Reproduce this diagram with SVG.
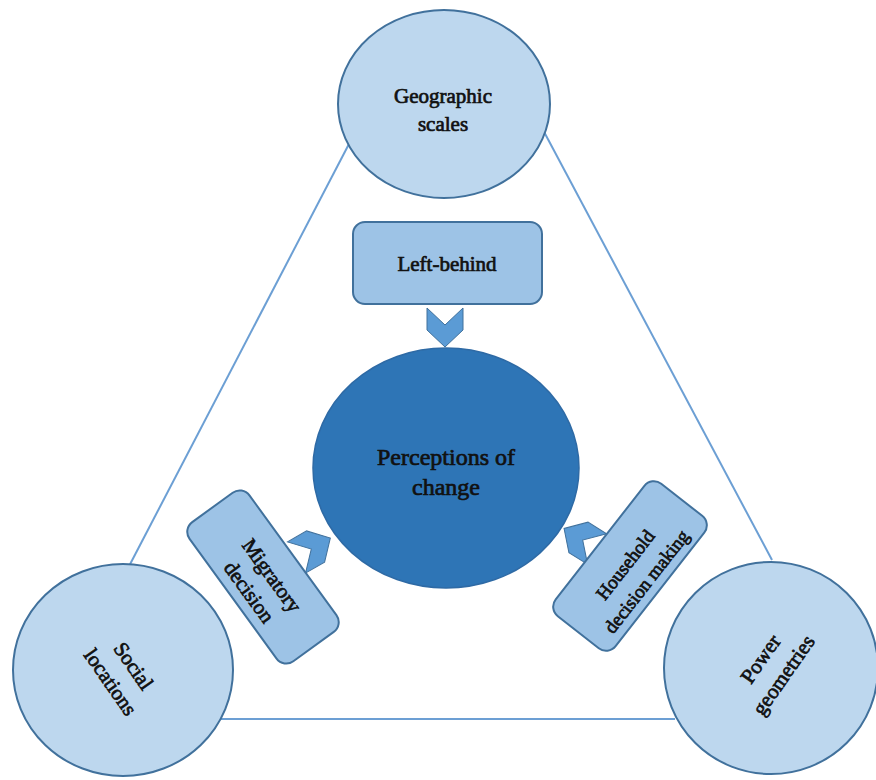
<svg xmlns="http://www.w3.org/2000/svg" width="876" height="780" viewBox="0 0 876 780">
<defs>
<style>
.outer{fill:#bdd7ee;stroke:#41719c;stroke-width:2}
.box{fill:#9dc3e6;stroke:#41719c;stroke-width:2}
.core{fill:#2e75b6;stroke:#2e6aa5;stroke-width:1.5}
.chev{fill:#5b9bd5;stroke:#41719c;stroke-width:1}
.link{stroke:#6c9fd4;stroke-width:2;fill:none}
.t{font-family:"Liberation Serif","Times New Roman",serif;fill:#111;stroke:#111;stroke-width:0.7;text-anchor:middle}
</style>
<polygon id="chevron" points="-18,-19 0,-2 18,-19 18,3 0,20 -18,3"/>
</defs>
<rect width="876" height="780" fill="#fff"/>
<g id="connectors">
<line class="link" x1="350" y1="142" x2="126" y2="572"/>
<line class="link" x1="542" y1="128" x2="772" y2="560"/>
<line class="link" x1="220" y1="719" x2="675" y2="719"/>
<use href="#chevron" class="chev" transform="translate(445,327)"/>
<use href="#chevron" class="chev" transform="translate(313,548) rotate(-120)"/>
<use href="#chevron" class="chev" transform="translate(581,539) rotate(122)"/>
</g>
<g id="geographic">
<ellipse class="outer" cx="444" cy="104" rx="106" ry="94"/>
<text class="t" font-size="21" x="443" y="103">Geographic</text>
<text class="t" font-size="21" x="443" y="131">scales</text>
</g>
<g id="social">
<ellipse class="outer" cx="123" cy="670" rx="110" ry="106"/>
<g transform="translate(122,674) rotate(55)">
<text class="t" font-size="21" x="0" y="-7">Social</text>
<text class="t" font-size="21" x="0" y="21">locations</text>
</g>
</g>
<g id="power">
<ellipse class="outer" cx="771" cy="668" rx="107" ry="106"/>
<g transform="translate(772,667) rotate(-55)">
<text class="t" font-size="21" x="0" y="-7">Power</text>
<text class="t" font-size="21" x="0" y="21">geometries</text>
</g>
</g>
<g id="left-behind">
<rect class="box" x="353" y="222" width="189" height="82" rx="12"/>
<text class="t" font-size="21" x="447" y="271">Left-behind</text>
</g>
<g id="perceptions">
<ellipse class="core" cx="446" cy="468" rx="133" ry="120"/>
<text class="t" font-size="24" x="446" y="465">Perceptions of</text>
<text class="t" font-size="24" x="446" y="495">change</text>
</g>
<g id="migratory">
<g transform="translate(263,577) rotate(54)">
<rect class="box" x="-86" y="-37" width="172" height="74" rx="12"/>
<text class="t" font-size="21" x="4" y="-1">Migratory</text>
<text class="t" font-size="21" x="4" y="27">decision</text>
</g>
</g>
<g id="household">
<g transform="translate(630,566) rotate(-52)">
<rect class="box" x="-84" y="-38" width="168" height="76" rx="12"/>
<text class="t" font-size="19" x="-2" y="2">Household</text>
<text class="t" font-size="19" x="-2" y="29">decision making</text>
</g>
</g>
</svg>
